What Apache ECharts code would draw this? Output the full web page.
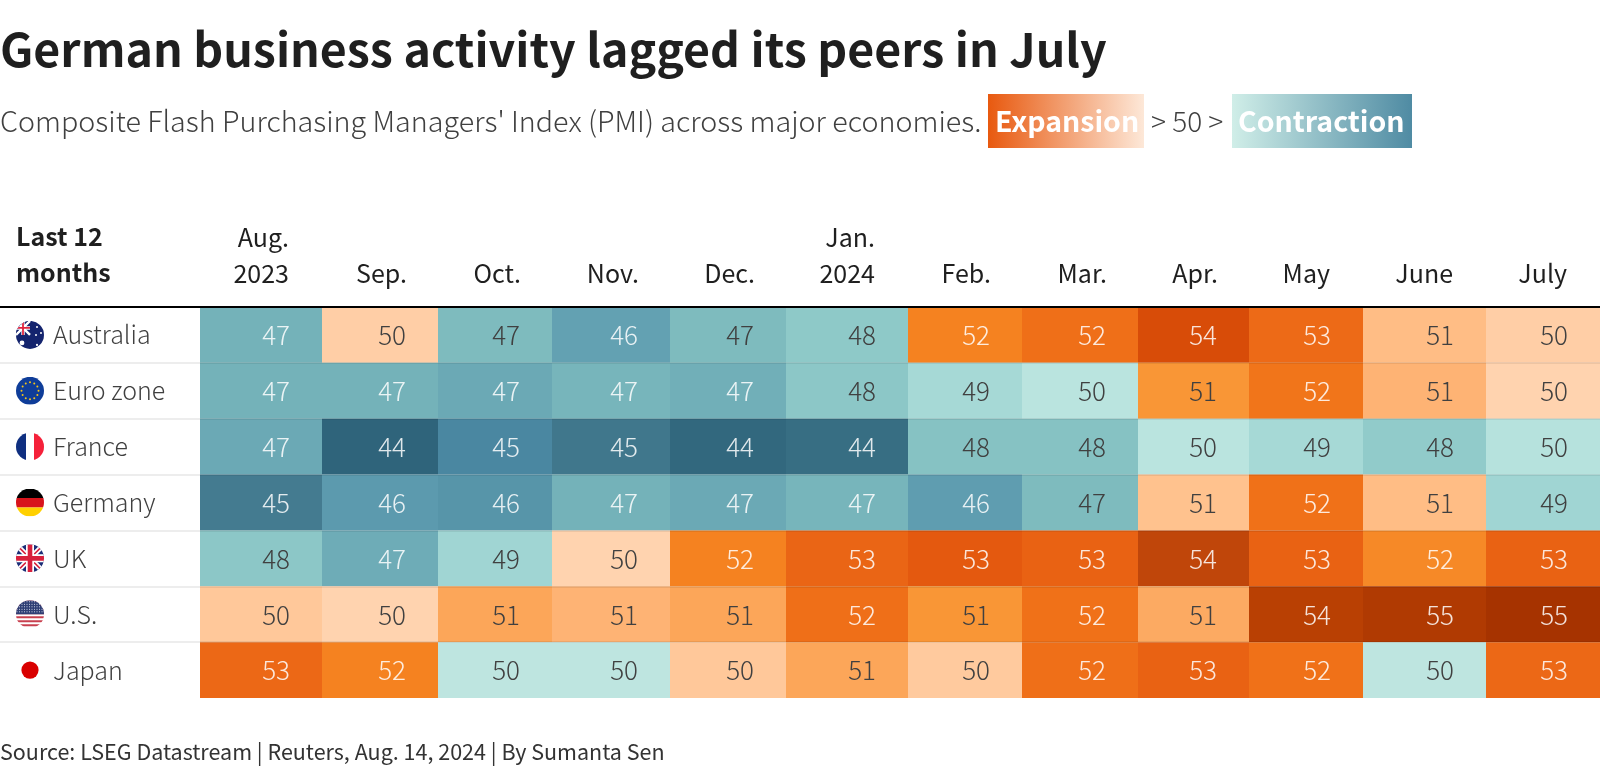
<!DOCTYPE html>
<html>
<head>
<meta charset="utf-8">
<style>
  html, body { margin: 0; padding: 0; background: #fff; }
  #chart { width: 1600px; height: 776px; }
</style>
<script src="https://cdn.jsdelivr.net/npm/echarts@6/dist/echarts.min.js"></script>
</head>
<body>
<div id="chart"></div>
<script>
const months = ['Aug.\n2023', 'Sep.', 'Oct.', 'Nov.', 'Dec.', 'Jan.\n2024', 'Feb.', 'Mar.', 'Apr.', 'May', 'June', 'July']
const countries = ['Australia', 'Euro zone', 'France', 'Germany', 'UK', 'U.S.', 'Japan']

// PMI readings, one decimal estimated from the cell shades
const australia = [46.9, 50.3, 47.3, 46.2, 47.3, 48.1, 51.9, 52.4, 53.9, 52.6, 50.7, 50.3]
const euroZone = [46.9, 46.9, 46.6, 47.0, 46.8, 48.0, 49.0, 49.7, 51.3, 52.2, 50.9, 50.2]
const france = [46.6, 43.9, 45.2, 44.7, 44.0, 44.2, 47.7, 47.7, 49.7, 49.0, 48.2, 49.6]
const germany = [44.9, 45.9, 45.7, 46.9, 46.6, 47.0, 46.0, 47.3, 50.6, 52.3, 50.7, 48.8]
const uk = [48.0, 46.7, 48.8, 50.2, 51.9, 52.8, 53.2, 52.9, 54.1, 52.9, 51.7, 52.9]
const us = [50.45, 50.2, 51.1, 50.9, 51.1, 52.4, 51.3, 52.3, 51.05, 54.3, 54.7, 55.0]
const japan = [52.7, 51.9, 49.8, 49.8, 50.45, 51.1, 50.4, 52.4, 52.9, 52.3, 49.8, 52.7]
const rows = [australia, euroZone, france, germany, uk, us, japan]

// layout: the columns are not equal in the original
const colEdges = [200, 322, 438, 552, 670, 786, 908, 1022, 1138, 1249, 1363, 1486, 1600]
const cellPad = 33

const SANS = '"Noto Sans CJK SC", "Noto Sans", sans-serif'
const LIGHT = '"Noto Sans CJK SC Light", "Noto Sans CJK SC", "Noto Sans", sans-serif'
const INK = '#1f1f1f'
const SOFT = '#404040'

const colorStops = [
  [43.8, '#2c6178'], [44.2, '#376e83'], [44.9, '#447b90'], [45.2, '#4a87a1'], [45.7, '#5795a9'],
  [46.0, '#5f9db0'], [46.6, '#6ba9b5'], [47.0, '#77b5bb'], [47.5, '#82bfc0'], [48.0, '#8cc7c7'],
  [48.5, '#98d0ce'], [49.0, '#a6d9d6'], [49.5, '#b2e0db'], [49.9, '#c2e7e2'], [50.0, '#ffdcc0'],
  [50.3, '#ffcea6'], [50.6, '#ffc28e'], [51.0, '#fdae6b'], [51.3, '#f99636'], [51.9, '#f58220'],
  [52.3, '#f07118'], [52.7, '#ec6816'], [53.2, '#e4590f'], [53.9, '#d84c08'], [54.1, '#c0460a'],
  [54.3, '#b94003'], [54.7, '#b03a02'], [55.0, '#a63300']
]

function cellColor(v) {
  for (let i = 1; i < colorStops.length; i++) {
    const [v0, c0] = colorStops[i - 1]
    const [v1, c1] = colorStops[i]
    if (v <= v1) return echarts.color.lerp((v - v0) / (v1 - v0), [c0, c1])
  }
  return colorStops[colorStops.length - 1][1]
}

function labelColor(v) {
  return v < 47.2 || v > 51.5 ? 'rgba(255,255,255,0.85)' : SOFT
}

function flagUri(body) {
  const svg = '<svg xmlns="http://www.w3.org/2000/svg" width="84" height="84" viewBox="0 0 28 28">' +
    '<defs><clipPath id="c"><circle cx="14" cy="14" r="14"/></clipPath></defs><g clip-path="url(#c)">' + body + '</g></svg>'
  return 'data:image/svg+xml;charset=utf-8,' + encodeURIComponent(svg)
}

function usStripes() {
  let s = '<rect width="28" height="28" fill="#fff"/>'
  for (let i = 0; i < 7; i++) s += '<rect y="' + (i * 4) + '" width="28" height="2" fill="#c8404f"/>'
  s += '<rect width="28" height="14" fill="#2f3f75"/>'
  for (let y = 1.5; y < 14; y += 2.5) for (let x = 1; x < 28; x += 2.5) s += '<circle cx="' + x + '" cy="' + y + '" r=".55" fill="#dfe3f0"/>'
  return s
}

function euStars() {
  let s = '<rect width="28" height="28" fill="#0f3d99"/>'
  for (let i = 0; i < 12; i++) {
    const a = i * Math.PI / 6
    s += '<circle cx="' + (14 + 8.5 * Math.cos(a)) + '" cy="' + (14 + 8.5 * Math.sin(a)) + '" r="1" fill="#f5c518"/>'
  }
  return s
}

const flags = [
  flagUri('<rect width="28" height="28" fill="#14246e"/><rect width="14" height="14" fill="#14246e"/>' +
    '<path d="M0 0L14 14M14 0L0 14" stroke="#fff" stroke-width="2.4"/><path d="M7 0V14M0 7H14" stroke="#fff" stroke-width="3.4"/>' +
    '<path d="M7 0V14M0 7H14" stroke="#e0243f" stroke-width="1.8"/>' +
    '<circle cx="6" cy="22" r="2.4" fill="#fff"/><circle cx="21" cy="6" r="1" fill="#fff"/><circle cx="25" cy="12" r="1" fill="#fff"/><circle cx="20" cy="14" r="1" fill="#fff"/><circle cx="21" cy="24" r="1.1" fill="#fff"/>'),
  flagUri(euStars()),
  flagUri('<rect width="10" height="28" fill="#0f2f80"/><rect x="10" width="8" height="28" fill="#fff"/><rect x="18" width="10" height="28" fill="#f5213a"/>'),
  flagUri('<rect width="28" height="10" fill="#000"/><rect y="9.5" width="28" height="9.5" fill="#d8141c"/><rect y="19" width="28" height="9" fill="#ffd000"/>'),
  flagUri('<rect width="28" height="28" fill="#1d2f78"/><path d="M0 0L28 28M28 0L0 28" stroke="#fff" stroke-width="5"/><path d="M0 0L28 28M28 0L0 28" stroke="#d8203c" stroke-width="1.6"/>' +
    '<path d="M14 0V28M0 14H28" stroke="#fff" stroke-width="8"/><path d="M14 0V28M0 14H28" stroke="#d8203c" stroke-width="4.6"/>'),
  flagUri(usStripes()),
  flagUri('<rect width="28" height="28" fill="#fff"/><circle cx="14" cy="14" r="8.6" fill="#d90000"/>')
]

const cells = []
rows.forEach((row, r) => row.forEach((v, c) => cells.push([c, r, v])))

function renderCell(params, api) {
  const col = api.value(0)
  const row = api.value(1)
  const v = api.value(2)
  const x0 = api.coord([colEdges[col], row])[0]
  const x1 = api.coord([colEdges[col + 1], row])[0]
  const yc = api.coord([0, row])[1]
  const h = api.size([0, 1])[1]
  return {
    type: 'group',
    children: [
      { type: 'rect', shape: { x: x0, y: yc - h / 2, width: x1 - x0, height: h }, style: { fill: cellColor(v) } },
      {
        type: 'text',
        style: {
          x: x1 - cellPad + 1, y: yc + 0.5, text: String(Math.round(v)), align: 'right', verticalAlign: 'middle',
          fill: labelColor(v), font: '300 26px ' + LIGHT
        }
      }
    ]
  }
}

// single-line months end in a period that hangs past the column edge
const headerStops = months.map((m, i) => colEdges[i + 1] - cellPad + (/^\w+\.$/.test(m) ? 2 : 0))

const richFlags = {}
flags.forEach((uri, i) => {
  richFlags['f' + i] = { backgroundColor: { image: uri }, width: 28, height: 28 }
})

const chart = echarts.init(document.getElementById('chart'))
chart.setOption({
  animation: false,
  backgroundColor: '#fff',
  title: {
    text: 'German business activity lagged its peers in July',
    left: 0, top: 26, padding: 0,
    textStyle: { fontFamily: SANS, fontWeight: 700, fontSize: 46.5, color: INK }
  },
  grid: { left: 0, right: 0, top: 307, bottom: 78 },
  xAxis: {
    type: 'value', position: 'top', min: 0, max: 1600, z: 5,
    splitLine: { show: false },
    axisTick: { show: false },
    axisLine: { show: true, lineStyle: { color: '#000', width: 2 } },
    axisLabel: {
      customValues: headerStops,
      align: 'right', margin: 16, lineHeight: 36,
      fontFamily: SANS, fontSize: 25, color: INK,
      formatter: (value) => months[headerStops.indexOf(value)]
    }
  },
  yAxis: {
    type: 'category', inverse: true, data: countries, z: 4,
    axisLine: { show: false },
    axisTick: { show: false },
    splitLine: { show: true, showMinLine: false, showMaxLine: false, lineStyle: { color: 'rgba(0,0,0,0.07)', width: 2 } },
    axisLabel: {
      inside: true, margin: 16, align: 'left',
      formatter: (value, i) => '{f' + i + '|}{name|' + value + '}',
      rich: {
        ...richFlags,
        name: { fontFamily: LIGHT, fontWeight: 300, fontSize: 25, color: SOFT, padding: [0, 0, 0, 9] }
      }
    }
  },
  series: [{
    type: 'custom', data: cells, renderItem: renderCell,
    encode: { x: 0, y: 1 }, clip: false
  }],
  graphic: [
    {
      type: 'text', left: 0, top: 107,
      style: { text: "Composite Flash Purchasing Managers' Index (PMI) across major economies.", font: '300 28.7px ' + LIGHT, fill: SOFT }
    },
    {
      type: 'rect', shape: { x: 988, y: 94, width: 156, height: 54 },
      style: { fill: new echarts.graphic.LinearGradient(0, 0, 1, 0, [{ offset: 0, color: '#e8590f' }, { offset: 1, color: '#fde8d8' }]) }
    },
    { type: 'text', left: 995, top: 107, style: { text: 'Expansion', font: '700 28.5px ' + SANS, fill: '#fff' } },
    { type: 'text', left: 1151, top: 107, style: { text: '> 50 >', font: '300 28px ' + LIGHT, fill: SOFT } },
    {
      type: 'rect', shape: { x: 1232, y: 94, width: 180, height: 54 },
      style: { fill: new echarts.graphic.LinearGradient(0, 0, 1, 0, [{ offset: 0, color: '#d0eee8' }, { offset: 1, color: '#4f8ba3' }]) }
    },
    { type: 'text', left: 1238, top: 107, style: { text: 'Contraction', font: '700 28.5px ' + SANS, fill: '#fff' } },
    {
      type: 'text', left: 16, top: 218,
      style: { text: 'Last 12\nmonths', font: '700 25px ' + SANS, lineHeight: 36, fill: INK }
    },
    { type: 'text', left: 0, top: 741, style: { text: 'Source: LSEG Datastream | Reuters, Aug. 14, 2024 | By Sumanta Sen', font: '400 21.5px ' + SANS, fill: '#333333' } }
  ]
})
window.addEventListener('resize', () => chart.resize())
</script>
</body>
</html>
